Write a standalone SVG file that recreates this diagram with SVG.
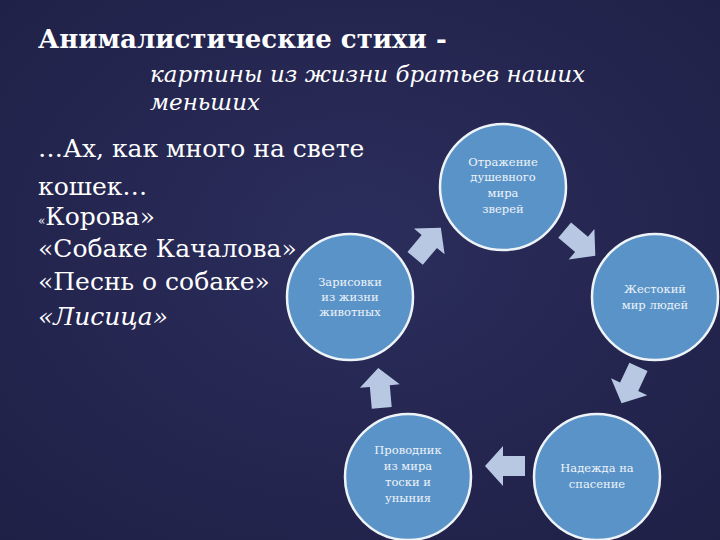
<svg xmlns="http://www.w3.org/2000/svg" width="720" height="540" viewBox="0 0 720 540">
<defs>
<radialGradient id="bg" cx="0.5" cy="0.45" r="0.75">
<stop offset="0" stop-color="#2b2d5c"/><stop offset="1" stop-color="#1f2046"/>
</radialGradient>
<path id="arr" d="M-20,-10 L2,-10 L2,-20 L20,0 L2,20 L2,10 L-20,10 Z" fill="#b8c8e2"/>
<style>
.c{fill:#5a93c7;stroke:#eef3f8;stroke-width:2.5}
.t{font-family:"DejaVu Serif","Liberation Serif",serif;fill:#fff}
.n{font-family:"DejaVu Serif","Liberation Serif",serif;fill:#eef3fa;font-size:11.5px;text-anchor:middle}
</style>
</defs>
<rect width="720" height="540" fill="url(#bg)"/>
<text class="t" x="38" y="48" font-size="26" font-weight="bold">Анималистические стихи -</text>
<text class="t" x="150" y="82" font-size="23" font-style="italic">картины из жизни братьев наших</text>
<text class="t" x="150" y="110" font-size="23" font-style="italic">меньших</text>
<text class="t" x="38" y="157" font-size="25">…Ах, как много на свете</text>
<text class="t" x="38" y="195" font-size="25">кошек…</text>
<text class="t" x="38" y="225" font-size="25"><tspan font-size="12">«</tspan>Корова»</text>
<text class="t" x="38" y="257" font-size="25">«Собаке Качалова»</text>
<text class="t" x="38" y="290" font-size="25">«Песнь о собаке»</text>
<text class="t" x="38" y="325" font-size="25" font-style="italic">«Лисица»</text>
<g id="connectors">
<use href="#arr" transform="translate(428,243) rotate(-50)"/>
<use href="#arr" transform="translate(580,243) rotate(40)"/>
<use href="#arr" transform="translate(630,385) rotate(115)"/>
<use href="#arr" transform="translate(505,466) rotate(180)"/>
<use href="#arr" transform="translate(380,388) rotate(-95)"/>
</g>
<g id="n1"><circle class="c" cx="503" cy="187" r="63"/>
<text class="n" y="166"><tspan x="503">Отражение</tspan><tspan x="503" dy="15">душевного</tspan><tspan x="503" dy="16">мира</tspan><tspan x="503" dy="16">зверей</tspan></text></g>
<g id="n2"><circle class="c" cx="655" cy="297" r="63"/>
<text class="n" y="293"><tspan x="655">Жестокий</tspan><tspan x="655" dy="16">мир людей</tspan></text></g>
<g id="n3"><circle class="c" cx="597" cy="477" r="63"/>
<text class="n" y="472"><tspan x="597">Надежда на</tspan><tspan x="597" dy="16">спасение</tspan></text></g>
<g id="n4"><circle class="c" cx="408" cy="477" r="63"/>
<text class="n" y="454"><tspan x="408">Проводник</tspan><tspan x="408" dy="16">из мира</tspan><tspan x="408" dy="16">тоски и</tspan><tspan x="408" dy="16">уныния</tspan></text></g>
<g id="n5"><circle class="c" cx="350" cy="297" r="63"/>
<text class="n" y="286"><tspan x="350">Зарисовки</tspan><tspan x="350" dy="15">из жизни</tspan><tspan x="350" dy="15">животных</tspan></text></g>
</svg>
